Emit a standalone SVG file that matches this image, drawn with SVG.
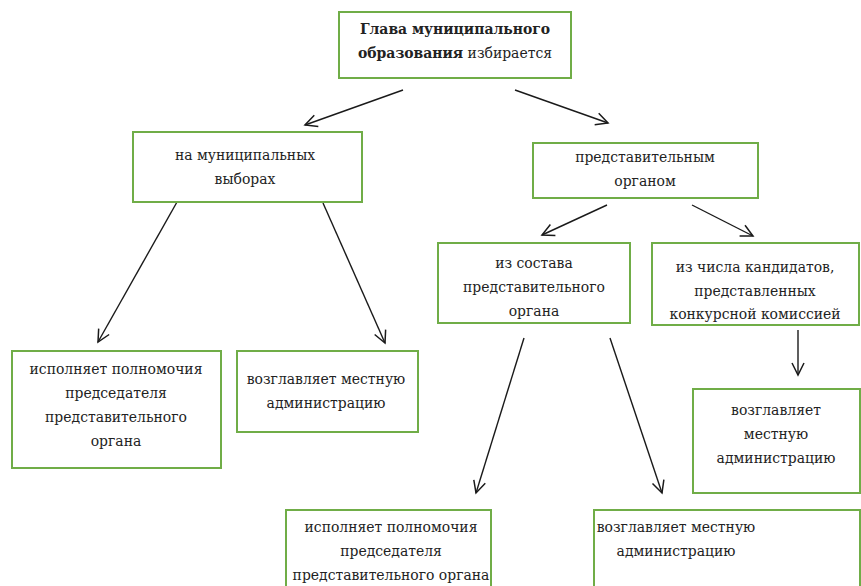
<svg xmlns="http://www.w3.org/2000/svg" width="861" height="586" viewBox="0 0 861 586">
<style>
.box{fill:#fff;stroke:#70AD47;stroke-width:2}
text{font-family:"DejaVu Serif Condensed","DejaVu Serif",serif;font-size:15.5px;fill:#222;text-anchor:middle}
.b{font-weight:bold}
.c{stroke:#1a1a1a;stroke-width:1.4;fill:none;marker-end:url(#ah)}
</style>
<defs>
<marker id="ah" markerUnits="userSpaceOnUse" markerWidth="16" markerHeight="16" refX="13" refY="7" orient="auto" viewBox="0 0 16 14">
<path d="M1,1 L13,7 L1,13" fill="none" stroke="#1a1a1a" stroke-width="1.5"/>
</marker>
</defs>
<rect width="861" height="586" fill="#fff"/>
<g id="connectors">
<line class="c" x1="403" y1="90" x2="305" y2="125"/>
<line class="c" x1="515" y1="90" x2="608" y2="123"/>
<line class="c" x1="177" y1="202" x2="98" y2="342"/>
<line class="c" x1="323" y1="203" x2="385" y2="343"/>
<line class="c" x1="607" y1="205" x2="542" y2="235"/>
<line class="c" x1="692" y1="205" x2="753" y2="236"/>
<line class="c" x1="524" y1="338" x2="476" y2="493"/>
<line class="c" x1="610" y1="338" x2="662" y2="493"/>
<line class="c" x1="798" y1="330" x2="798" y2="375"/>
</g>
<g id="top">
<rect class="box" x="339" y="12" width="232" height="66"/>
<text x="455" y="34"><tspan class="b">Глава муниципального</tspan></text>
<text x="455" y="58"><tspan class="b">образования</tspan> избирается</text>
</g>
<g id="elections">
<rect class="box" x="133" y="132" width="229" height="70"/>
<text x="245" y="160">на муниципальных</text>
<text x="245" y="184">выборах</text>
</g>
<g id="repbody">
<rect class="box" x="533" y="143" width="225" height="55"/>
<text x="645" y="162">представительным</text>
<text x="645" y="186">органом</text>
</g>
<g id="fromcomp">
<rect class="box" x="438" y="243" width="192" height="80"/>
<text x="534" y="268">из состава</text>
<text x="534" y="292">представительного</text>
<text x="534" y="316">органа</text>
</g>
<g id="candidates">
<rect class="box" x="652" y="243" width="207" height="82"/>
<text x="755" y="272">из числа кандидатов,</text>
<text x="755" y="296">представленных</text>
<text x="755" y="319">конкурсной комиссией</text>
</g>
<g id="chair1">
<rect class="box" x="12" y="351" width="209" height="117"/>
<text x="116" y="374">исполняет полномочия</text>
<text x="116" y="398">председателя</text>
<text x="116" y="422">представительного</text>
<text x="116" y="446">органа</text>
</g>
<g id="admin1">
<rect class="box" x="237" y="351" width="181" height="81"/>
<text x="326" y="384">возглавляет местную</text>
<text x="326" y="408">администрацию</text>
</g>
<g id="admin3">
<rect class="box" x="693" y="389" width="167" height="104"/>
<text x="776" y="415">возглавляет</text>
<text x="776" y="439">местную</text>
<text x="776" y="463">администрацию</text>
</g>
<g id="chair2">
<rect class="box" x="286" y="510" width="205" height="82"/>
<text x="391" y="532">исполняет полномочия</text>
<text x="391" y="556">председателя</text>
<text x="391" y="580">представительного органа</text>
</g>
<g id="admin2">
<rect class="box" x="594" y="510" width="266" height="82"/>
<text x="676" y="532">возглавляет местную</text>
<text x="676" y="556">администрацию</text>
</g>
</svg>
